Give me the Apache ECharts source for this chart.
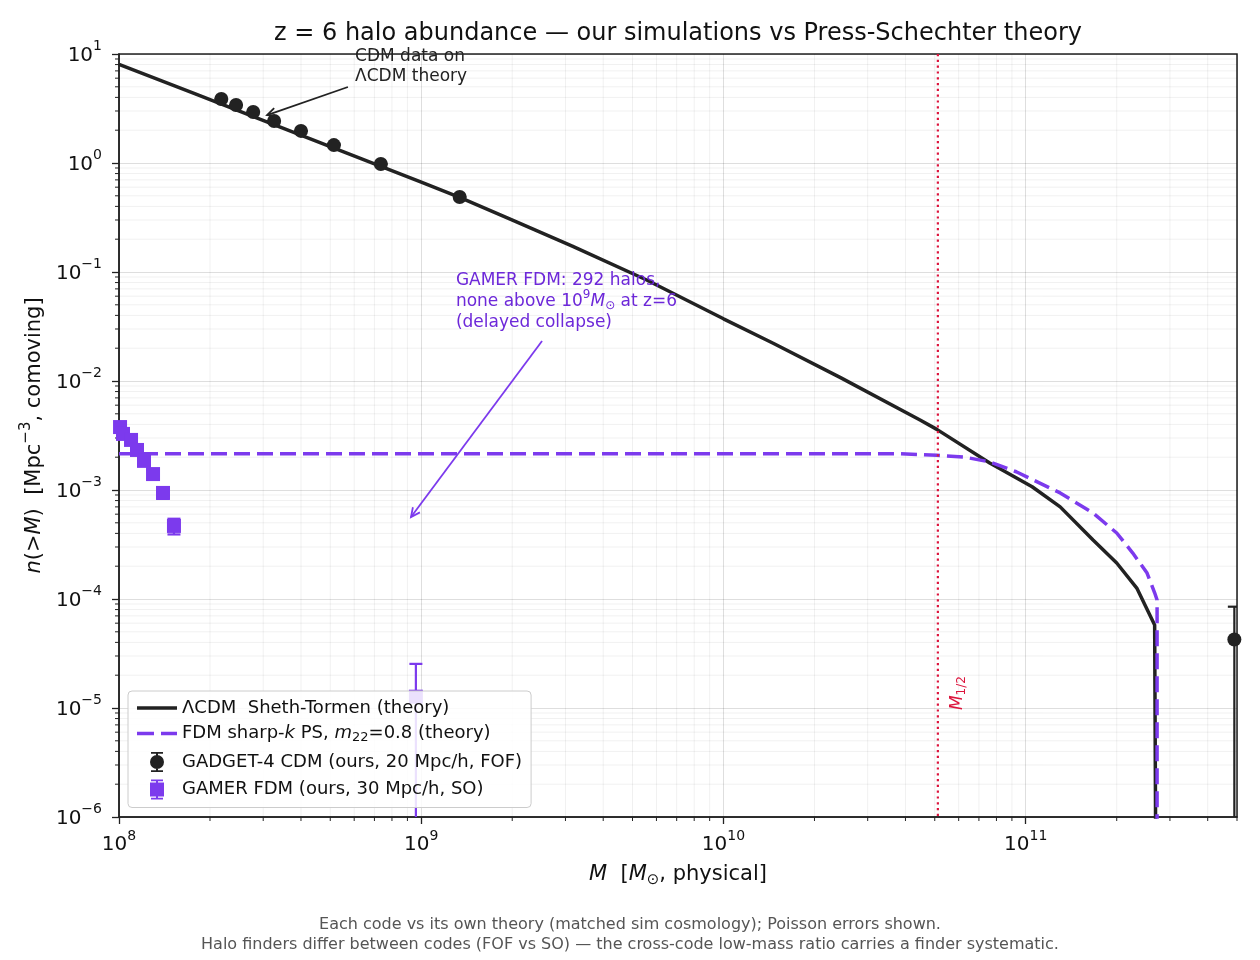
<!DOCTYPE html>
<html><head><meta charset="utf-8">
<script src="https://cdn.jsdelivr.net/npm/echarts@6/dist/echarts.min.js"></script>
<style>html,body{margin:0;padding:0;background:#fff}#c{width:1260px;height:960px}</style>
</head><body><div id="c"></div>
<script>
const FONT = 'DejaVu Sans';
const BLACK = '#222222', PURPLE = '#7c3aed', PTEXT = '#6d28d9', RED = '#dc143c';

// ---- data ----
const lcdmMass = [1.0e8, 1.78e8, 3.16e8, 5.62e8, 1.0e9, 1.34e9, 1.96e9, 3.16e9, 5.57e9, 1.0e10, 1.46e10, 2.43e10, 4.47e10, 5.08e10, 7.6e10, 1.05e11, 1.30e11, 1.67e11, 2.0e11, 2.33e11, 2.67e11, 2.72e11];
const lcdmN    = [8.03, 4.32, 2.32, 1.245, 0.668, 0.484, 0.307, 0.173, 0.0845, 0.0372, 0.0222, 0.0108, 4.39e-3, 3.6e-3, 1.77e-3, 1.07e-3, 7.0e-4, 3.48e-4, 2.14e-4, 1.26e-4, 5.77e-5, 1e-9];

const fdmThMass = [1e8, 1e9, 1e10, 3.83e10, 5.08e10, 6.3e10, 7.6e10, 9.3e10, 1.30e11, 1.67e11, 2.0e11, 2.26e11, 2.52e11, 2.67e11, 2.72e11, 2.72e11];
const fdmThN    = [2.15e-3, 2.15e-3, 2.15e-3, 2.15e-3, 2.08e-3, 2.0e-3, 1.81e-3, 1.47e-3, 9.4e-4, 6.15e-4, 4.03e-4, 2.64e-4, 1.73e-4, 1.14e-4, 9.8e-5, 1e-9];

const cdmSimMass = [2.18e8, 2.44e8, 2.78e8, 3.26e8, 4.0e8, 5.14e8, 7.35e8, 1.34e9, 4.9e11];
const cdmSimN    = [3.87, 3.40, 2.94, 2.43, 1.97, 1.46, 0.98, 0.487, 4.25e-5];
const cdmSimErr  = [0.013, 0.012, 0.011, 0.010, 0.009, 0.008, 0.0065, 0.0046, 4.25e-5];

const fdmSimMass = [1.008e8, 1.031e8, 1.096e8, 1.147e8, 1.21e8, 1.296e8, 1.398e8, 1.52e8, 9.6e8];
const fdmSimN    = [3.78e-3, 3.27e-3, 2.88e-3, 2.33e-3, 1.85e-3, 1.40e-3, 9.4e-4, 4.68e-4, 1.27e-5];
const fdmSimErr  = [2.2e-4, 2.0e-4, 1.9e-4, 1.7e-4, 1.5e-4, 1.3e-4, 1.1e-4, 7.7e-5, 1.27e-5];

const mHalf = 5.12e10;
const xRange = [1e8, 5e11];
const yRange = [1e-6, 10];
const xDecades = [8, 9, 10, 11];
const yDecades = [-6, -5, -4, -3, -2, -1, 0];

const names = {
  lcdm: 'ΛCDM  Sheth-Tormen (theory)',
  fdm: 'FDM sharp-k PS, m22=0.8 (theory)',
  cdmSim: 'GADGET-4 CDM (ours, 20 Mpc/h, FOF)',
  fdmSim: 'GAMER FDM (ours, 30 Mpc/h, SO)'
};
const legendRich = {
  [names.lcdm]: 'ΛCDM  Sheth-Tormen (theory)',
  [names.fdm]: 'FDM sharp-{i|k} PS, {i|m}{sub|22}=0.8 (theory)',
  [names.cdmSim]: 'GADGET-4 CDM (ours, 20 Mpc/h, FOF)',
  [names.fdmSim]: 'GAMER FDM (ours, 30 Mpc/h, SO)'
};

const titleText = 'z = 6 halo abundance — our simulations vs Press-Schechter theory';
const annotTexts = [
  {pos: [6.04e8, 4.98], text: 'CDM data on\nΛCDM theory', color: BLACK},
  {pos: [1.302e9, 0.0275], text: 'GAMER FDM: 292 halos,\nnone above 10{sup|9}{i|M}{sub|⊙} at z=6\n(delayed collapse)', color: PTEXT}
];
const arrows = [
  {from: [5.72e8, 4.98], to: [3.09e8, 2.75], color: BLACK},
  {from: [2.51e9, 0.0233], to: [9.25e8, 5.65e-4], color: PURPLE}
];
const mHalfLabelPos = [5.96e10, 1.37e-5];

const footer1 = 'Each code vs its own theory (matched sim cosmology); Poisson errors shown.';
const footer2 = 'Halo finders differ between codes (FOF vs SO) — the cross-code low-mass ratio carries a finder systematic.';

// ---- helpers ----
function rich(fs, color) {
  return {
    i: {fontStyle: 'italic', fontSize: fs, fontFamily: FONT, color: color},
    sup: {fontSize: Math.round(fs * 0.7), fontFamily: FONT, color: color, padding: [0, 0, Math.round(fs * 0.75), 0]},
    sub: {fontSize: Math.round(fs * 0.7), fontFamily: FONT, color: color, padding: [Math.round(fs * 0.5), 0, 0, 0]},
    n: {fontSize: fs, fontFamily: FONT, color: color}
  };
}
function powLabel(v) {
  const e = Math.round(Math.log10(v));
  if (Math.abs(v / Math.pow(10, e) - 1) > 1e-6) return '';
  const s = e < 0 ? '−' + (-e) : String(e);
  return '{n|10}{sup|' + s + '}';
}
const zip = (a, b) => a.map((v, i) => [v, b[i]]);
const errData = (m, n, e) => m.map((v, i) => [v, Math.max(n[i] - e[i], 1e-9), n[i] + e[i]]);

const minorX = [];
xDecades.forEach(k => { for (let m = 2; m <= 9; m++) { const v = m * Math.pow(10, k); if (v <= xRange[1] * 1.0001) minorX.push([v, 1]); } });
const minorY = [];
yDecades.forEach(k => { for (let m = 2; m <= 9; m++) minorY.push([1e8, m * Math.pow(10, k)]); });

function errRender(color) {
  return function (params, api) {
    const x = api.value(0), lo = api.value(1), hi = api.value(2);
    const a = api.coord([x, hi]), b = api.coord([x, lo]);
    const cap = 6.5, st = {stroke: color, lineWidth: 2.2};
    return {type: 'group', children: [
      {type: 'line', shape: {x1: a[0], y1: a[1], x2: b[0], y2: b[1]}, style: st},
      {type: 'line', shape: {x1: a[0] - cap, y1: a[1], x2: a[0] + cap, y2: a[1]}, style: st},
      {type: 'line', shape: {x1: b[0] - cap, y1: b[1], x2: b[0] + cap, y2: b[1]}, style: st}
    ]};
  };
}

const chart = echarts.init(document.getElementById('c'), null, {renderer: 'canvas'});
const tickFs = 20;
const nameFs = 21;
const tickRich = rich(tickFs, '#111');
tickRich.n.padding = [3, 0, 0, 0];
const option = {
  backgroundColor: '#ffffff',
  animation: false,
  grid: {left: 119, right: 23, top: 54, bottom: 143, containLabel: false, outerBoundsMode: 'none',
    show: true, borderColor: BLACK, borderWidth: 1.5, backgroundColor: 'transparent'},
  legend: {
    z: 20, zlevel: 0,
    orient: 'vertical', left: 128, top: 691,
    backgroundColor: 'rgba(255,255,255,0.85)', borderColor: '#cccccc', borderWidth: 1, borderRadius: 4,
    padding: [8, 9, 8, 9], itemGap: 7.5, itemWidth: 40, itemHeight: 20, selectedMode: false,
    textStyle: {fontFamily: FONT, fontSize: 18, color: '#111', rich: rich(18, '#111')},
    formatter: n => legendRich[n] || n,
    data: [
      {name: names.lcdm, icon: 'path://M0,0h40v3.6h-40z'},
      {name: names.fdm, icon: 'path://M0,0h17v3.6h-17zM24,0h16v3.6h-16z'},
      {name: names.cdmSim, icon: 'path://M6,0h2v20h-2zM1,0h12v1.8h-12zM1,18.2h12v1.8h-12zM0,10a7,7 0 1,1 14,0a7,7 0 1,1 -14,0z'},
      {name: names.fdmSim, icon: 'path://M6,0h2v20h-2zM1,0h12v1.8h-12zM1,18.2h12v1.8h-12zM0,3h14v14h-14z'}
    ]
  },
  xAxis: {
    type: 'log', logBase: 10, min: xRange[0], max: xRange[1],
    name: '{i|M}  [{i|M}{sub|⊙}, physical]', nameLocation: 'middle', nameGap: 45,
    nameTextStyle: {fontFamily: FONT, fontSize: nameFs, color: '#111', rich: rich(nameFs, '#111')},
    axisLine: {show: true, lineStyle: {color: BLACK, width: 1.5}},
    axisTick: {show: true, inside: false, length: 7, lineStyle: {color: BLACK, width: 1.3}},
    axisLabel: {margin: 12, formatter: powLabel, fontFamily: FONT, fontSize: tickFs, color: '#111', rich: tickRich, showMaxLabel: false},
    splitLine: {show: true, lineStyle: {color: 'rgba(0,0,0,0.13)', width: 1}},
    minorTick: {show: false}
  },
  yAxis: {
    type: 'log', logBase: 10, min: yRange[0], max: yRange[1],
    name: '{i|n}(>{i|M})  [Mpc{sup|−3}, comoving]', nameLocation: 'middle', nameGap: 66, nameRotate: 90,
    nameTextStyle: {fontFamily: FONT, fontSize: nameFs, color: '#111', rich: rich(nameFs, '#111')},
    axisLine: {show: true, lineStyle: {color: BLACK, width: 1.5}},
    axisTick: {show: true, inside: false, length: 7, lineStyle: {color: BLACK, width: 1.3}},
    axisLabel: {margin: 17, formatter: powLabel, fontFamily: FONT, fontSize: tickFs, color: '#111', rich: tickRich},
    splitLine: {show: true, lineStyle: {color: 'rgba(0,0,0,0.13)', width: 1}},
    minorTick: {show: false}
  },
  graphic: [
    {type: 'text', x: 678, y: 34, style: {text: titleText, fill: '#111', font: '24px "DejaVu Sans"', textAlign: 'center', textVerticalAlign: 'middle'}},
    {type: 'text', x: 630, y: 925, style: {text: footer1, fill: '#555', font: '16px "DejaVu Sans"', textAlign: 'center', textVerticalAlign: 'middle'}},
    {type: 'text', x: 630, y: 945, style: {text: footer2, fill: '#555', font: '16px "DejaVu Sans"', textAlign: 'center', textVerticalAlign: 'middle'}}
  ],
  series: [
    { // minor x grid + ticks
      type: 'custom', name: 'minorX', z: 1, silent: true, clip: false, data: minorX,
      renderItem: function (params, api) {
        const cs = params.coordSys; const x = api.coord([api.value(0), 1])[0];
        return {type: 'group', children: [
          {type: 'line', shape: {x1: x, y1: cs.y, x2: x, y2: cs.y + cs.height}, style: {stroke: 'rgba(0,0,0,0.06)', lineWidth: 1}},
          {type: 'line', shape: {x1: x, y1: cs.y + cs.height, x2: x, y2: cs.y + cs.height + 4}, style: {stroke: BLACK, lineWidth: 1}}
        ]};
      }
    },
    { // minor y grid + ticks
      type: 'custom', name: 'minorY', z: 1, silent: true, clip: false, data: minorY,
      renderItem: function (params, api) {
        const cs = params.coordSys; const y = api.coord([1e9, api.value(1)])[1];
        return {type: 'group', children: [
          {type: 'line', shape: {x1: cs.x, y1: y, x2: cs.x + cs.width, y2: y}, style: {stroke: 'rgba(0,0,0,0.06)', lineWidth: 1}},
          {type: 'line', shape: {x1: cs.x - 4, y1: y, x2: cs.x, y2: y}, style: {stroke: BLACK, lineWidth: 1}}
        ]};
      }
    },
    {
      type: 'line', name: names.lcdm, z: 3, data: zip(lcdmMass, lcdmN), symbol: 'none', showSymbol: false,
      lineStyle: {color: BLACK, width: 3.5}, itemStyle: {color: BLACK}, clip: true
    },
    {
      type: 'line', name: names.fdm, z: 4, data: zip(fdmThMass, fdmThN), symbol: 'none', showSymbol: false,
      lineStyle: {color: PURPLE, width: 3.5, type: [16, 7]}, itemStyle: {color: PURPLE}, clip: true
    },
    { // M1/2 vertical dotted line
      type: 'custom', name: 'mhalf', z: 4.5, silent: true, clip: true, data: [[mHalf, 1]],
      renderItem: function (params, api) {
        const cs = params.coordSys; const x = api.coord([api.value(0), 1])[0];
        return {type: 'line', shape: {x1: x, y1: cs.y, x2: x, y2: cs.y + cs.height},
          style: {stroke: RED, lineWidth: 2.2, lineDash: [2.2, 3.6]}};
      }
    },
    {
      type: 'scatter', name: names.cdmSim, z: 5, data: zip(cdmSimMass, cdmSimN), symbol: 'circle', symbolSize: 14,
      itemStyle: {color: BLACK, opacity: 1}, clip: true
    },
    {
      type: 'custom', name: 'cdmErr', z: 5, silent: true, clip: true, data: errData(cdmSimMass, cdmSimN, cdmSimErr),
      renderItem: errRender(BLACK)
    },
    {
      type: 'scatter', name: names.fdmSim, z: 5, data: zip(fdmSimMass, fdmSimN), symbol: 'rect', symbolSize: 14,
      itemStyle: {color: PURPLE, opacity: 1}, clip: true
    },
    {
      type: 'custom', name: 'fdmErr', z: 5, silent: true, clip: true, data: errData(fdmSimMass, fdmSimN, fdmSimErr),
      renderItem: errRender(PURPLE)
    },
    { // arrows
      type: 'custom', name: 'arrows', z: 6, silent: true, clip: false,
      data: arrows.map((a, i) => [a.from[0], a.from[1], a.to[0], a.to[1], i]),
      renderItem: function (params, api) {
        const i = api.value(4);
        const p1 = api.coord([api.value(0), api.value(1)]), p2 = api.coord([api.value(2), api.value(3)]);
        const ang = Math.atan2(p2[1] - p1[1], p2[0] - p1[0]);
        const L = 10, w = 0.45;
        const h1 = [p2[0] - L * Math.cos(ang - w), p2[1] - L * Math.sin(ang - w)];
        const h2 = [p2[0] - L * Math.cos(ang + w), p2[1] - L * Math.sin(ang + w)];
        const st = {stroke: arrows[i].color, lineWidth: 1.8, fill: null};
        return {type: 'group', children: [
          {type: 'line', shape: {x1: p1[0], y1: p1[1], x2: p2[0], y2: p2[1]}, style: st},
          {type: 'polyline', shape: {points: [h1, p2, h2]}, style: st}
        ]};
      }
    },
    { // annotation texts
      type: 'custom', name: 'annot', z: 6, silent: true, clip: false,
      data: annotTexts.map((a, i) => [a.pos[0], a.pos[1], i]),
      renderItem: function (params, api) {
        const i = api.value(2); const a = annotTexts[i];
        const p = api.coord([api.value(0), api.value(1)]);
        const lh = i === 0 ? 20 : 21;
        const r = rich(17, a.color);
        Object.keys(r).forEach(k => { r[k].lineHeight = lh; });
        return {type: 'text', x: p[0], y: p[1], style: {text: a.text.split('\n').map(l => l.indexOf('{') < 0 ? '{n|' + l + '}' : l.replace(/^([^{]+)/, '{n|$1}').replace(/\}([^{}]+)$/, '}{n|$1}')).join('\n'),
          fill: a.color, fontSize: 17, fontFamily: FONT, align: 'left', verticalAlign: 'bottom', lineHeight: lh, rich: r}};
      }
    },
    { // M1/2 label
      type: 'custom', name: 'mhalfLabel', z: 6, silent: true, clip: false, data: [mHalfLabelPos],
      renderItem: function (params, api) {
        const p = api.coord([api.value(0), api.value(1)]);
        return {type: 'text', x: p[0], y: p[1], rotation: Math.PI / 2,
          style: {text: '{i|M}{sub|1/2}', fill: RED, fontSize: 17, fontFamily: FONT, align: 'center', verticalAlign: 'middle', rich: rich(17, RED)}};
      }
    }
  ]
};
chart.setOption(option);
</script>
</body></html>
